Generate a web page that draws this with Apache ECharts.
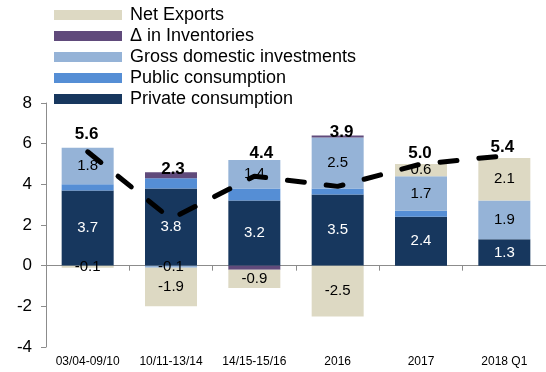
<!DOCTYPE html>
<html>
<head>
<meta charset="utf-8">
<script src="https://cdn.jsdelivr.net/npm/echarts@6/dist/echarts.min.js"></script>
<style>
  html, body { margin: 0; padding: 0; background: #fff; }
  #chart { width: 546px; height: 372px; }
</style>
</head>
<body>
<div id="chart"></div>
<script>
// Contributions to real GDP growth, percentage points
const categories = ['03/04-09/10', '10/11-13/14', '14/15-15/16', '2016', '2017', '2018 Q1'];
const privateConsumption = [3.7, 3.8, 3.2, 3.5, 2.4, 1.3];
const publicConsumption  = [0.3, 0.5, 0.6, 0.3, 0.3, 0];
const grossInvestment    = [1.8, -0.1, 1.4, 2.5, 1.7, 1.9];
const inventories        = [0, 0.3, -0.2, 0.1, 0, 0];
const netExports         = [-0.1, -1.9, -0.9, -2.5, 0.6, 2.1];
const gdpGrowth          = [5.6, 2.3, 4.4, 3.9, 5.0, 5.4];
const yTicks = { min: -4, max: 8, step: 2 };

// Where each growth label sits relative to its point
const growthLabelOffsets = [[-1, -17], [2, -50], [7, -23], [4, -54], [-1, -11], [-2, -9]];

const FONT = '"Liberation Sans", Arial, sans-serif';

function segLabel(color) {
  return {
    show: true,
    position: 'inside',
    color: color,
    fontFamily: FONT,
    fontSize: 15,
    formatter: p => (p.value === 0 ? '' : p.value.toFixed(1))
  };
}

function barSeries(name, data, color, label) {
  return {
    name: name,
    type: 'bar',
    stack: 'gdp',
    xAxisIndex: 0,
    barWidth: 52,
    data: data,
    itemStyle: { color: color },
    label: label || { show: false },
    emphasis: { disabled: true }
  };
}

const chart = echarts.init(document.getElementById('chart'), null, { renderer: 'canvas' });

chart.setOption({
  animation: false,
  textStyle: { fontFamily: FONT },
  grid: { left: 46, right: 0, top: 103, bottom: 25, containLabel: false },
  legend: {
    orient: 'vertical',
    left: 54,
    top: 6,
    padding: 0,
    itemWidth: 68,
    itemHeight: 10,
    itemGap: 3,
    icon: 'rect',
    data: ['Net Exports', 'Δ in Inventories', 'Gross domestic investments', 'Public consumption', 'Private consumption'],
    textStyle: { fontFamily: FONT, fontSize: 18, color: '#000', lineHeight: 18, padding: [0, 0, 0, 3] }
  },
  xAxis: [
    {
      type: 'category',
      data: categories,
      axisLine: { onZero: true, lineStyle: { color: '#8c8c8c', width: 1 } },
      axisTick: { show: true, length: 5, lineStyle: { color: '#8c8c8c' } },
      axisLabel: { show: false }
    },
    {
      type: 'category',
      data: categories,
      position: 'bottom',
      axisLine: { show: false, onZero: false },
      axisTick: { show: false },
      axisLabel: { fontFamily: FONT, fontSize: 12, color: '#000', margin: 9 }
    }
  ],
  yAxis: {
    type: 'value',
    min: yTicks.min,
    max: yTicks.max,
    interval: yTicks.step,
    axisLine: { show: true, lineStyle: { color: '#8c8c8c', width: 1 } },
    axisTick: { show: true, length: 5, lineStyle: { color: '#8c8c8c' } },
    splitLine: { show: false },
    axisLabel: { fontFamily: FONT, fontSize: 17, color: '#000', margin: 14 }
  },
  series: [
    barSeries('Private consumption', privateConsumption, '#17375e', segLabel('#fff')),
    barSeries('Public consumption', publicConsumption, '#558ed5'),
    barSeries('Gross domestic investments', grossInvestment, '#95b3d7', segLabel('#000')),
    barSeries('Δ in Inventories', inventories, '#604a7b'),
    barSeries('Net Exports', netExports, '#ddd9c3', segLabel('#000')),
    {
      name: 'GDP growth',
      type: 'line',
      xAxisIndex: 0,
      z: 5,
      symbol: 'circle',
      symbolSize: 1,
      itemStyle: { color: 'transparent' },
      lineStyle: { color: '#000', width: 5, type: [17, 22], cap: 'round' },
      data: gdpGrowth.map((v, i) => ({
        value: v,
        label: { offset: growthLabelOffsets[i] }
      })),
      label: {
        show: true,
        position: 'inside',
        color: '#000',
        fontFamily: FONT,
        fontSize: 17,
        fontWeight: 'bold',
        formatter: p => p.value.toFixed(1)
      },
      emphasis: { disabled: true }
    }
  ]
});
</script>
</body>
</html>
